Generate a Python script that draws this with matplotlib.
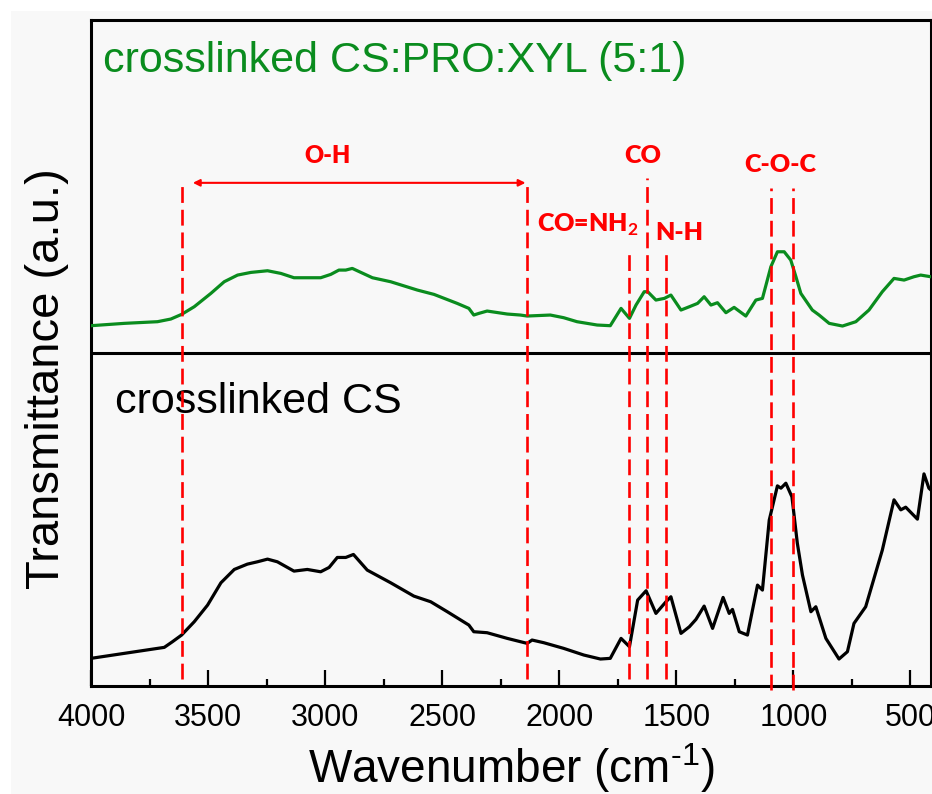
import matplotlib
matplotlib.use("Agg")
import matplotlib.pyplot as plt
from matplotlib.patches import Rectangle

plt.rcParams['font.family'] = ['Liberation Sans', 'DejaVu Sans']
plt.rcParams['mathtext.fontset'] = 'custom'
plt.rcParams['mathtext.rm'] = 'Liberation Sans'
plt.rcParams['mathtext.it'] = 'Liberation Sans'
plt.rcParams['mathtext.bf'] = 'Lato:bold'

# crosslinked CS:PRO:XYL (5:1) - upper panel
wn_pro = [4000, 3858, 3716, 3659, 3613, 3559, 3488, 3431, 3374, 3317, 3246, 3189, 3133,
          3019, 2976, 2941, 2912, 2884, 2798, 2720, 2606, 2535, 2436, 2386, 2365, 2343,
          2308, 2222, 2166, 2137, 2038, 1981, 1924, 1838, 1782,
          1736, 1700, 1672, 1637, 1622, 1587, 1551, 1523, 1480, 1444, 1409, 1381, 1352,
          1324, 1288, 1253, 1203, 1160, 1132, 1096, 1068, 1039, 1011, 989, 968, 919, 890,
          847, 790, 733, 677, 620, 570, 527, 485, 456, 413]
t_pro = [8.2, 8.9, 9.4, 10.2, 11.6, 13.9, 17.9, 21.4, 23.4, 24.2, 24.7, 23.9, 22.6,
         22.6, 23.6, 24.9, 24.9, 25.4, 22.6, 21.4, 18.9, 17.6, 14.9, 13.4, 11.4, 11.9,
         12.6, 11.7, 11.4, 11.1, 11.4, 10.6, 9.4, 8.4, 8.2,
         13.4, 10.4, 14.4, 18.4, 18.4, 15.9, 16.4, 17.4, 12.9, 13.9, 14.9, 16.9, 14.4,
         15.1, 12.1, 13.7, 11.1, 15.9, 16.4, 25.9, 30.4, 30.4, 27.9, 22.9, 17.9, 12.9, 11.4,
         8.9, 8.1, 9.4, 12.9, 18.4, 22.4, 21.9, 22.9, 23.4, 22.9]

# crosslinked CS - lower panel
wn_cs = [4000, 3858, 3744, 3687, 3652, 3613, 3559, 3502, 3445, 3388, 3332, 3289, 3246,
         3204, 3133, 3076, 3019, 2983, 2948, 2912, 2879, 2820, 2720, 2621, 2549, 2478,
         2386, 2365, 2308, 2222, 2137, 2116, 2066, 1981, 1895, 1824, 1782,
         1736, 1700, 1665, 1629, 1587, 1544, 1523, 1480, 1444, 1416, 1381, 1345, 1300,
         1274, 1260, 1231, 1196, 1153, 1132, 1103, 1068, 1053, 1032, 1006, 983, 961, 925,
         904, 861, 805, 769, 741, 691, 620, 570, 541, 520, 470, 442, 421, 413]
t_cs = [8.3, 9.8, 11.0, 11.6, 13.3, 15.3, 19.3, 24.3, 31.0, 35.0, 36.6, 37.3, 38.1,
        37.3, 34.5, 35.0, 34.3, 35.6, 38.6, 38.6, 39.5, 34.8, 31.0, 27.0, 25.3, 22.3,
        18.3, 16.3, 16.0, 14.3, 12.8, 13.8, 13.0, 11.3, 9.3, 8.1, 8.3,
        14.3, 11.8, 25.8, 28.6, 21.8, 25.3, 26.8, 15.8, 17.8, 20.0, 24.0, 17.3, 26.6,
        21.8, 23.0, 16.3, 15.3, 30.3, 28.8, 49.8, 60.1, 59.4, 60.9, 56.8, 42.9, 33.3, 22.3,
        23.8, 14.3, 8.1, 10.3, 18.8, 23.8, 40.8, 55.9, 52.9, 53.7, 50.1, 63.7, 59.4, 58.9]

# band assignments
oh_lines = [3612, 2136]
band_lines = [1702, 1625, 1545, 1096, 1000]
band_tops = [131.5, 152.6, 131.5, 149.5, 149.5]
band_labels = [r'CO=NH$_\mathbf{2}$', 'CO', 'N-H', 'C-O-C']
label_x = [1878, 1643, 1487, 1058]
label_y = [136.3, 157.1, 133.9, 154.4]

offset = 100  # upper panel is shifted by one panel height
red = '#ff0000'
green = '#0a8c1e'
bg = '#f8f8f8'

fig = plt.figure(figsize=(9.32, 7.94), dpi=100)
fig.patch.set_facecolor('white')
fig.patches.append(Rectangle((11 / 932, 0), 1, 1 - 11 / 794, transform=fig.transFigure,
                             facecolor=bg, edgecolor='none', zorder=-10))

ax = fig.add_axes([91 / 932, 1 - 686 / 794, 840 / 932, 666 / 794])
ax.set_facecolor(bg)

ax.plot(wn_pro, [v + offset for v in t_pro], color=green, lw=2.3, zorder=3,
        solid_joinstyle='round')
ax.plot(wn_cs, t_cs, color='black', lw=2.3, zorder=3, solid_joinstyle='round')
ax.axhline(offset, color='black', lw=2.2, zorder=4)

ax.set_xlim(4000, 412)
ax.set_ylim(0, 200)

# dashed band lines
dash = dict(color=red, lw=1.9, ls=(0, (6, 2.6)), zorder=5, clip_on=False)
for x in oh_lines:
    ax.plot([x, x], [2.1, 151.1], **dash)
for i, x in enumerate(band_lines):
    bottom = -1.2 if x in (1096, 1000) else 2.1
    ax.plot([x, x], [bottom, band_tops[i]], **dash)

ax.annotate('', xy=(3565, 151.1), xytext=(2144, 151.1),
            arrowprops=dict(arrowstyle='<|-|>', color=red, lw=1.5,
                            mutation_scale=10, shrinkA=0, shrinkB=0))
ax.text(2989, 157.1, 'O-H', color=red, fontsize=17, fontweight='heavy',
        family='Lato', ha='center', va='baseline')
for lab, x, y in zip(band_labels, label_x, label_y):
    ax.text(x, y, lab, color=red, fontsize=18, fontweight='heavy',
            family='Lato', ha='center', va='baseline')

ax.text(3949, 184.4, 'crosslinked CS:PRO:XYL (5:1)', color=green, fontsize=31,
        va='baseline')
ax.text(3898, 82.0, 'crosslinked CS', color='black', fontsize=31, va='baseline')

for s in ax.spines.values():
    s.set_linewidth(2.2)
ax.set_yticks([])
ax.set_xticks([4000, 3500, 3000, 2500, 2000, 1500, 1000, 500])
ax.set_xticks([3750, 3250, 2750, 2250, 1750, 1250, 750], minor=True)
ax.tick_params(axis='x', which='major', direction='in', length=11.5, width=1.6,
               labelsize=22, pad=12)
ax.tick_params(axis='x', which='minor', direction='in', length=5, width=1.6)

fig.text(511 / 932, 1 - 783 / 794, r'Wavenumber (cm$^{\text{-1}}$)', fontsize=33,
         ha='center', va='baseline')
fig.text(47 / 932, 1 - 379 / 794, 'Transmittance (a.u.)', fontsize=34,
         rotation=90, ha='center', va='center')

fig.savefig('out.png', dpi=100, facecolor=fig.get_facecolor())
